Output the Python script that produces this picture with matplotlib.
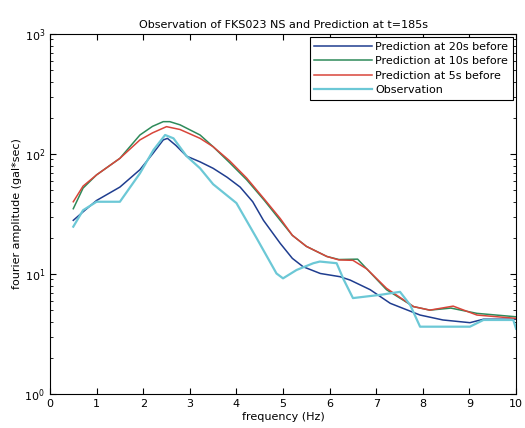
import matplotlib
matplotlib.use("Agg")
import matplotlib.pyplot as plt
from matplotlib.ticker import LogLocator, NullFormatter

# Prediction at 20s before
f_20 = [0.5, 0.75, 1.0, 1.5, 1.93, 2.2, 2.43, 2.52, 2.7, 2.93, 3.22, 3.5, 3.8, 4.08, 4.35, 4.58, 4.94, 5.2, 5.43, 5.8, 6.22, 6.44, 6.87, 7.3, 7.94, 8.43, 9.01, 9.3, 10.0]
v_20 = [28, 34, 41, 53, 74, 100, 131, 135, 118, 96, 86, 76, 64, 53, 40, 28, 18, 13.5, 11.5, 10.1, 9.5, 8.9, 7.4, 5.7, 4.55, 4.14, 3.93, 4.2, 4.2]

# Prediction at 10s before
f_10 = [0.5, 0.71, 1.0, 1.5, 1.93, 2.2, 2.43, 2.57, 2.79, 3.22, 3.5, 3.85, 4.22, 4.6, 4.94, 5.2, 5.5, 5.94, 6.2, 6.6, 6.8, 7.22, 7.8, 8.15, 8.6, 9.16, 10.0]
v_10 = [35, 52, 67, 92, 144, 170, 186, 186, 175, 144, 115, 85, 61, 41, 28, 21, 17, 14, 13.2, 13.3, 11.0, 7.4, 5.35, 5.0, 5.2, 4.7, 4.4]

# Prediction at 5s before
f_5 = [0.5, 0.71, 1.0, 1.5, 1.93, 2.2, 2.5, 2.79, 3.22, 3.5, 3.85, 4.22, 4.6, 4.94, 5.2, 5.5, 5.94, 6.2, 6.5, 6.8, 7.22, 7.8, 8.15, 8.65, 9.16, 10.0]
v_5 = [40, 54, 67, 92, 131, 150, 169, 160, 135, 115, 88, 63, 42, 29, 21, 17, 14, 13.1, 13.0, 11.0, 7.6, 5.35, 5.0, 5.4, 4.55, 4.27]

# Observation
f_obs = [0.5, 0.71, 1.0, 1.5, 1.93, 2.22, 2.47, 2.65, 2.93, 3.22, 3.5, 4.0, 4.43, 4.86, 5.0, 5.29, 5.65, 5.79, 6.15, 6.3, 6.5, 7.08, 7.51, 7.73, 7.94, 9.01, 9.3, 9.94, 10.0]
v_obs = [24.8, 34, 40, 40, 69, 108, 144, 135, 96, 76, 56, 39, 20, 10.1, 9.2, 10.8, 12.3, 12.7, 12.3, 9.0, 6.3, 6.7, 7.1, 5.5, 3.64, 3.64, 4.14, 4.14, 3.5]

x_ticks = list(range(0, 11))

fig = plt.figure(figsize=(5.25, 4.28), dpi=100)
ax = fig.add_axes([0.0952, 0.0794, 0.8878, 0.8412])

ax.plot(f_20, v_20, color="#1f3d8f", lw=1.1, label="Prediction at 20s before")
ax.plot(f_10, v_10, color="#2e8a5a", lw=1.1, label="Prediction at 10s before")
ax.plot(f_5, v_5, color="#d8453a", lw=1.1, label="Prediction at 5s before")
ax.plot(f_obs, v_obs, color="#6cc8d6", lw=1.6, label="Observation")

ax.set_yscale("log")
ax.set_xlim(0, 10)
ax.set_ylim(1, 1000)
ax.set_xticks(x_ticks)
ax.set_xticklabels([str(t) for t in x_ticks])
ax.yaxis.set_major_locator(LogLocator(base=10, numticks=10))
ax.yaxis.set_minor_locator(LogLocator(base=10, subs=range(2, 10), numticks=100))
ax.yaxis.set_minor_formatter(NullFormatter())
ax.tick_params(which="both", direction="in", top=True, right=True, labelsize=8)
ax.tick_params(which="major", length=4)
ax.tick_params(which="minor", length=2)

ax.set_title("Observation of FKS023 NS and Prediction at t=185s", fontsize=8, pad=4)
ax.set_xlabel("frequency (Hz)", fontsize=8, labelpad=2)
ax.set_ylabel("fourier amplitude (gal*sec)", fontsize=8, labelpad=2)

leg = ax.legend(loc="upper right", fontsize=8, frameon=True, fancybox=False,
                framealpha=1, edgecolor="black", handlelength=5.2,
                borderpad=0.4, labelspacing=0.4, handletextpad=0.3,
                borderaxespad=0.3)
leg.get_frame().set_linewidth(0.8)

fig.savefig("out.png", dpi=100)
